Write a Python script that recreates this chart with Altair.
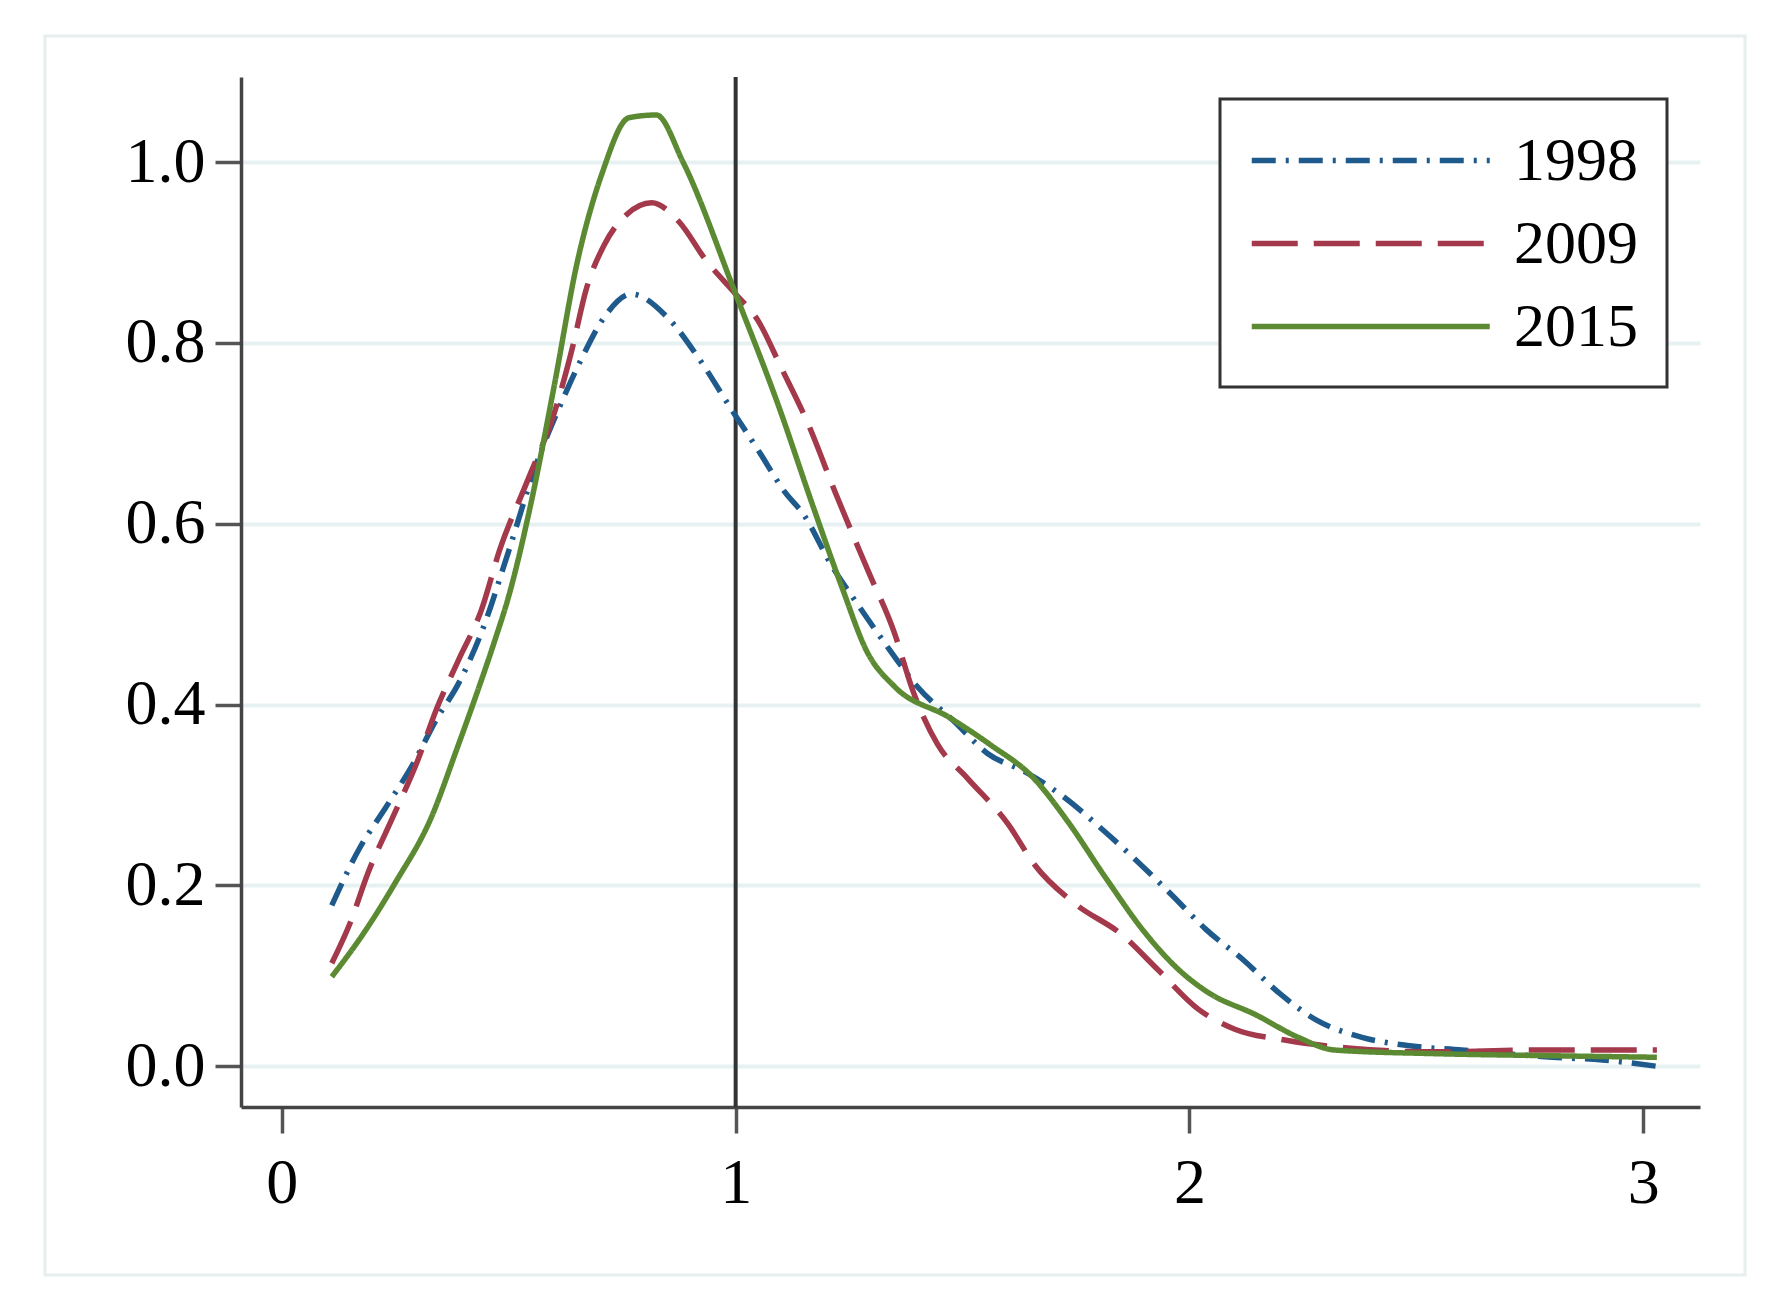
import altair as alt
import pandas as pd

# ---- data ----
years = ["1998", "2009", "2015"]

x1998 = [0.11, 0.17, 0.23, 0.29, 0.34, 0.39, 0.44, 0.50, 0.56, 0.61, 0.66, 0.71, 0.77,
         0.85, 0.92, 0.99, 1.05, 1.11, 1.15, 1.21, 1.27, 1.34, 1.40, 1.48, 1.555, 1.64,
         1.72, 1.81, 1.88, 1.96, 2.035, 2.12, 2.20, 2.28, 2.38, 2.48, 2.60, 2.80, 2.91, 3.03]
y1998 = [0.178, 0.24, 0.287, 0.335, 0.383, 0.424, 0.48, 0.57, 0.665, 0.727, 0.782, 0.828, 0.854,
         0.828, 0.782, 0.727, 0.681, 0.634, 0.61, 0.555, 0.51, 0.46, 0.42, 0.382, 0.346, 0.325,
         0.299, 0.261, 0.229, 0.19, 0.152, 0.117, 0.08, 0.051, 0.032, 0.023, 0.018, 0.010, 0.007, 0.0]

x2009 = [0.11, 0.15, 0.19, 0.245, 0.30, 0.34, 0.39, 0.44, 0.48, 0.54, 0.60, 0.64, 0.67, 0.71,
         0.76, 0.815, 0.875, 0.935, 1.0, 1.05, 1.10, 1.16, 1.22, 1.29, 1.35, 1.39, 1.445, 1.51,
         1.60, 1.66, 1.75, 1.85, 1.93, 2.02, 2.10, 2.21, 2.355, 2.54, 2.76, 3.03]
y2009 = [0.114, 0.158, 0.214, 0.276, 0.339, 0.394, 0.45, 0.505, 0.571, 0.646, 0.722, 0.794, 0.858, 0.908,
         0.942, 0.955, 0.934, 0.891, 0.854, 0.824, 0.773, 0.71, 0.634, 0.55, 0.479, 0.416, 0.356, 0.319,
         0.268, 0.222, 0.179, 0.146, 0.107, 0.063, 0.041, 0.029, 0.020, 0.016, 0.018, 0.018]

x2015 = [0.11, 0.18, 0.25, 0.33, 0.385, 0.43, 0.47, 0.50, 0.55, 0.60, 0.65, 0.706, 0.765, 0.825,
         0.884, 1.0, 1.094, 1.17, 1.234, 1.29, 1.35, 1.47, 1.56, 1.656, 1.73, 1.816, 1.90, 1.976,
         2.04, 2.146, 2.24, 2.32, 2.54, 2.76, 3.03]
y2015 = [0.099, 0.147, 0.203, 0.276, 0.35, 0.413, 0.472, 0.52, 0.625, 0.752, 0.887, 0.988, 1.049, 1.052,
         1.0, 0.854, 0.731, 0.62, 0.53, 0.458, 0.42, 0.386, 0.356, 0.319, 0.272, 0.208, 0.149, 0.107,
         0.082, 0.057, 0.032, 0.018, 0.014, 0.012, 0.010]

x_ticks = [0, 1, 2, 3]
y_ticks = [0.0, 0.2, 0.4, 0.6, 0.8, 1.0]
ref_x = [1]

colors = ["#1f5a8c", "#a3394a", "#5b8a32"]
dashes = [[24, 10, 3, 10], [46, 16], [1, 0]]

rows = []
for yr, xs, ys in [("1998", x1998, y1998), ("2009", x2009, y2009), ("2015", x2015, y2015)]:
    for i, (a, b) in enumerate(zip(xs, ys)):
        rows.append({"year": yr, "x": a, "y": b, "order": i})
df = pd.DataFrame(rows)

W, H = 1459, 1030
XDOM = [-0.09, 3.125]
YDOM = [-0.045, 1.094]

xscale = alt.Scale(domain=XDOM, nice=False, zero=False)
yscale = alt.Scale(domain=YDOM, nice=False, zero=False)

FONT = "Liberation Serif"

frame = alt.Chart(pd.DataFrame({"k": [0]})).mark_rect(
    fillOpacity=0, stroke="#e6eeee", strokeWidth=3
).encode(
    x=alt.value(45 - 241), x2=alt.value(1745 - 241),
    y=alt.value(36 - 77), y2=alt.value(1275 - 77),
)

lines = alt.Chart(df).mark_line(strokeWidth=5.5, interpolate="monotone").encode(
    x=alt.X("x:Q", scale=xscale,
            axis=alt.Axis(values=x_ticks, title=None, grid=False, format="d")),
    y=alt.Y("y:Q", scale=yscale,
            axis=alt.Axis(values=y_ticks, title=None, grid=True, format=".1f")),
    color=alt.Color("year:N", scale=alt.Scale(domain=years, range=colors),
                    legend=alt.Legend(title=None)),
    strokeDash=alt.StrokeDash("year:N", scale=alt.Scale(domain=years, range=dashes),
                              legend=alt.Legend(title=None)),
    order="order:Q",
)

vline = alt.Chart(pd.DataFrame({"x": ref_x})).mark_rule(color="#333333", strokeWidth=4).encode(
    x=alt.X("x:Q", scale=xscale)
)

chart = alt.layer(frame, vline, lines).properties(
    width=W, height=H,
    autosize=alt.AutoSizeParams(type="none"),
    padding={"left": 233, "top": 69, "right": 60, "bottom": 180},
).configure_view(
    stroke=None
).configure_axis(
    domainColor="#444444", domainWidth=3.5,
    tickColor="#555555", tickWidth=3.5, tickSize=26,
    labelFont=FONT, labelFontSize=64, labelColor="#000000",
    gridColor="#e8f1f1", gridWidth=4,
).configure_axisX(
    labelPadding=18,
).configure_axisY(
    labelPadding=10,
).configure_legend(
    orient="none", legendX=979, legendY=22,
    padding=29, strokeColor="#333333", strokeWidth=3, fillColor="#ffffff",
    symbolType="M-1,0H7", symbolSize=3540, symbolStrokeWidth=5.5,
    labelFont=FONT, labelFontSize=62, labelColor="#000000",
    labelOffset=200, rowPadding=19, cornerRadius=0,
)

chart.save("out.html", embed_options={"renderer": "svg", "actions": False})
